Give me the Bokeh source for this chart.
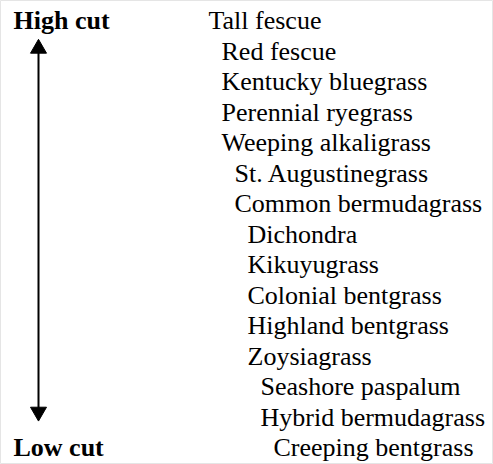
from bokeh.plotting import figure
from bokeh.models import Range1d
from bokeh.core.properties import value
from bokeh.embed import file_html
from bokeh.resources import INLINE

grasses = ["Tall fescue", "Red fescue", "Kentucky bluegrass", "Perennial ryegrass",
           "Weeping alkaligrass", "St. Augustinegrass", "Common bermudagrass",
           "Dichondra", "Kikuyugrass", "Colonial bentgrass", "Highland bentgrass",
           "Zoysiagrass", "Seashore paspalum", "Hybrid bermudagrass", "Creeping bentgrass"]
indent = [0, 1, 1, 1, 1, 2, 2, 3, 3, 3, 3, 3, 4, 4, 5]
rank = list(range(len(grasses)))
end_labels = ["High cut", "Low cut"]
end_rank = [0, len(grasses) - 1]

p = figure(width=493, height=464, output_backend="svg", toolbar_location=None,
           x_range=Range1d(0, 493), y_range=Range1d(14.557, -0.656), min_border=0)
p.axis.visible = False
p.grid.visible = False

for name, lvl, r in zip(grasses, indent, rank):
    p.text(x=[208 + 13 * lvl], y=[r], text=[name], text_font=value("Liberation Serif"),
           text_font_size="26px", text_baseline="middle")

for name, r in zip(end_labels, end_rank):
    p.text(x=[13], y=[r], text=[name], text_font=value("Liberation Serif"),
           text_font_size="26px", text_font_style="bold", text_baseline="middle")

# double-headed arrow between the two ends
p.segment(x0=[38], y0=[0.9], x1=[38], y1=[12.85], line_width=2, line_color="black")
p.scatter(x=[38], y=[0.92], marker="triangle", size=16, fill_color="black", line_color="black")
p.scatter(x=[38], y=[12.83], marker="inverted_triangle", size=16, fill_color="black",
          line_color="black")

open("out.html", "w").write(file_html(p, INLINE))
